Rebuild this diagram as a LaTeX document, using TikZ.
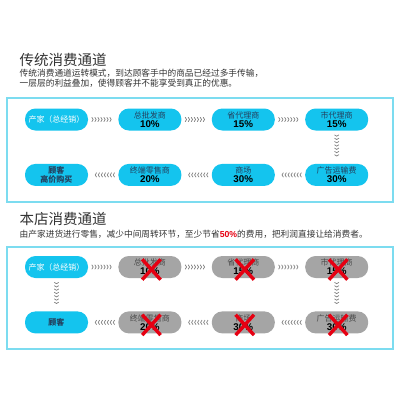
\documentclass[tikz,border=0pt]{standalone}
\usepackage{fontspec}
\newfontfamily\cjk{Noto Sans CJK SC}
\newfontfamily\numfont{Liberation Sans}
\usepackage{xcolor}
\usetikzlibrary{
    arrows.meta,
    positioning,
    shapes.misc,
    decorations.markings
}
\definecolor{chancyan}{HTML}{14C4EE}
\definecolor{framecyan}{HTML}{7CDCF0}
\definecolor{labelnavy}{HTML}{23405E}
\definecolor{cutgray}{HTML}{A5A5A5}
\definecolor{cuttext}{HTML}{4A4A4A}
\definecolor{cutred}{HTML}{E60012}
\definecolor{chevgray}{HTML}{808080}
\definecolor{headgray}{HTML}{333333}
\tikzset{
    stage/.style={
        rectangle,
        rounded corners=10.5pt,
        fill=chancyan,
        text=labelnavy,
        align=center,
        minimum height=22pt,
        minimum width=63pt,
        inner sep=0pt,
        font=\cjk\fontsize{8}{9}\selectfont
    },
    cutstage/.style={
        stage,
        fill=cutgray,
        text=cuttext
    },
    cutmark/.style={
        cross out,
        draw=cutred,
        line width=3.4pt,
        minimum width=15pt,
        minimum height=17pt,
        inner sep=0pt
    },
    chevrons/.style={
        postaction={decorate},
        decoration={markings,
            mark=between positions 0.18 and 0.82 step 0.1 with
            {\arrow[color=chevgray, line width=0.7pt]{Straight Barb[length=1.4pt, width=4.5pt]}}}
    },
    channel/.style={
        draw=framecyan,
        line width=1.5pt
    },
    heading/.style={
        anchor=west,
        inner sep=0pt,
        text=headgray,
        font=\cjk\fontsize{14.5}{16}\selectfont
    },
    blurb/.style={
        anchor=north west,
        align=left,
        inner sep=0pt,
        text=headgray,
        font=\cjk\fontsize{8.7}{10}\selectfont
    }
}
\newcommand{\pc}[1]{{\numfont\bfseries\fontsize{9.8}{9}\selectfont\color{black}#1}}

\begin{document}
\begin{tikzpicture}[x=1pt, y=-1pt, node distance=33pt and 30pt]
\useasboundingbox[fill=white] (0,0) rectangle (400,400);

% traditional channel
\node[heading] (title1) at (19.5,60) {传统消费通道};
\node[blurb] (text1) at (19.5,68.5) {传统消费通道运转模式，到达顾客手中的商品已经过多手传输，\\一层层的利益叠加，使得顾客并不能享受到真正的优惠。};
\draw[channel] (7,98) rectangle (393,202);

\node[stage, text=white] (maker) at (56.5,119.5) {产家（总经销）};
\node[stage, right=of maker] (wholesale) {总批发商\\\pc{10\%}};
\node[stage, right=of wholesale] (province) {省代理商\\\pc{15\%}};
\node[stage, right=of province] (city) {市代理商\\\pc{15\%}};

\node[stage, below=of city] (advert) {广告运输费\\\pc{30\%}};
\node[stage, left=of advert] (mall) {商场\\\pc{30\%}};
\node[stage, left=of mall] (retail) {终端零售商\\\pc{20\%}};
\node[stage, left=of retail, font=\cjk\bfseries\fontsize{8}{9}\selectfont] (buyer) {顾客\\高价购买};

\path[chevrons] (maker) -- (wholesale);
\path[chevrons] (wholesale) -- (province);
\path[chevrons] (province) -- (city);
\path[chevrons] (city) -- (advert);
\path[chevrons] (advert) -- (mall);
\path[chevrons] (mall) -- (retail);
\path[chevrons] (retail) -- (buyer);

% our channel
\node[heading] (title2) at (19.5,219) {本店消费通道};
\node[blurb] (text2) at (19.5,229.5) {由产家进货进行零售，减少中间周转环节，至少节省{\numfont\bfseries\color{cutred}50\%}的费用，把利润直接让给消费者。};
\draw[channel] (7,247) rectangle (393,349);

\node[stage, text=white] (maker2) at (56.5,267) {产家（总经销）};
\node[cutstage, right=of maker2] (wholesale2) {总批发商\\\pc{10\%}};
\node[cutstage, right=of wholesale2] (province2) {省代理商\\\pc{15\%}};
\node[cutstage, right=of province2] (city2) {市代理商\\\pc{15\%}};

\node[cutstage, below=of city2] (advert2) {广告运输费\\\pc{30\%}};
\node[cutstage, left=of advert2] (mall2) {商场\\\pc{30\%}};
\node[cutstage, left=of mall2] (retail2) {终端零售商\\\pc{20\%}};
\node[stage, below=of maker2, font=\cjk\bfseries\fontsize{8}{9}\selectfont] (buyer2) {顾客};

\path[chevrons] (maker2) -- (wholesale2);
\path[chevrons] (wholesale2) -- (province2);
\path[chevrons] (province2) -- (city2);
\path[chevrons] (city2) -- (advert2);
\path[chevrons] (advert2) -- (mall2);
\path[chevrons] (mall2) -- (retail2);
\path[chevrons] (retail2) -- (buyer2);
\path[chevrons] (maker2) -- (buyer2);

\foreach \g in {wholesale2, province2, city2, advert2, mall2, retail2}
    \node[cutmark, xshift=1.5pt, yshift=-2.5pt] (x\g) at (\g) {};

\end{tikzpicture}
\end{document}
